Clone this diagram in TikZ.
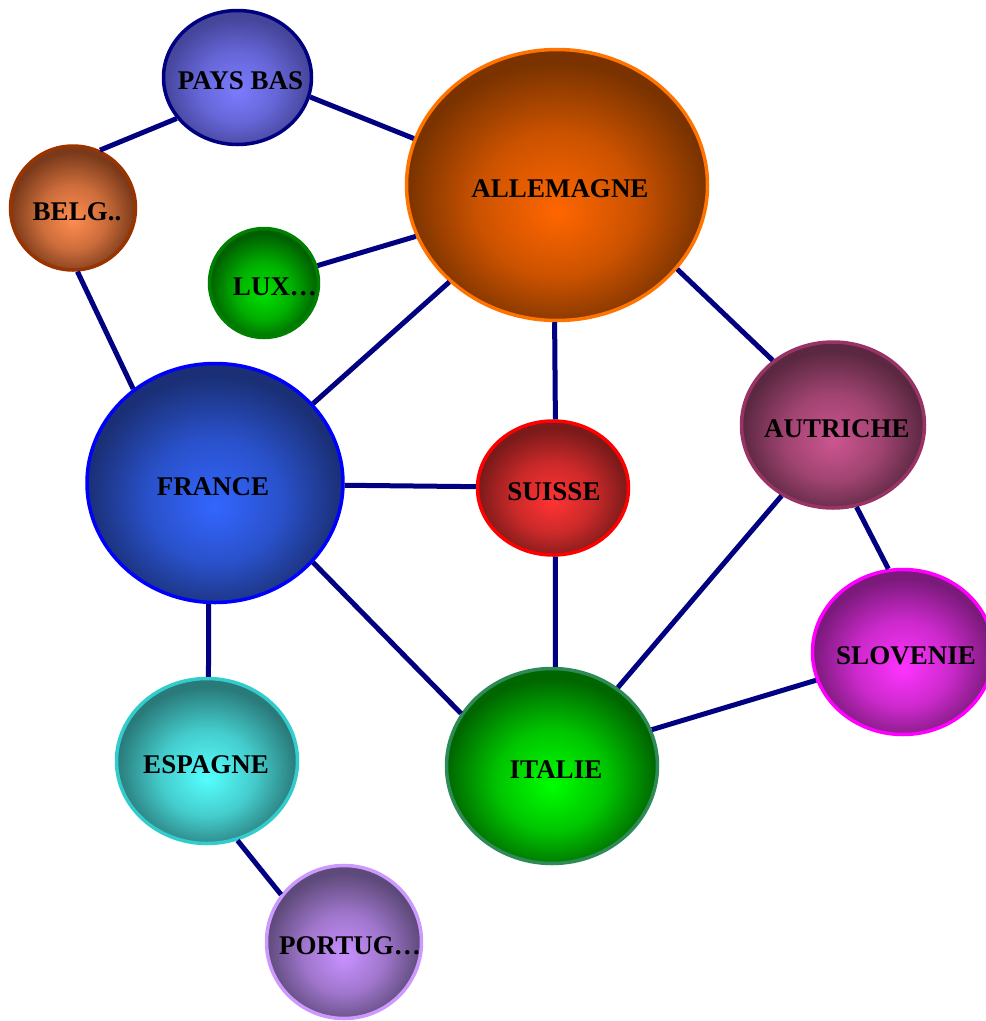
\documentclass[tikz,border=0pt]{standalone}
\usepackage{fontspec}
\setmainfont{Liberation Serif}
\usetikzlibrary{shapes.geometric}

% glowing fill: light a little below the middle, dark towards the rim
\colorlet{gin}{white}
\colorlet{gmid}{gray}
\colorlet{gout}{black}
\pgfdeclareradialshading[gin,gmid,gout]{glow}{\pgfpoint{0bp}{-5bp}}{%
  color(0bp)=(gin); color(13bp)=(gmid); color(25bp)=(gout); color(50bp)=(gout)}

\definecolor{linkblue}{HTML}{000080}

% label of zero width, so that the ellipse keeps its own size;
% #1 moves the text sideways by half its value
\newcommand\ctylabel[2][0pt]{\makebox[0pt]{\hspace*{#1}\smash{#2}\rule{0pt}{24pt}}}

\tikzset{
  country/.style n args={5}{
    ellipse, inner sep=0pt, line width=3.5pt,
    minimum width=#1, minimum height=#2,
    /utils/exec={\definecolor{gline}{HTML}{#3}\definecolor{gin}{HTML}{#4}%
      \definecolor{gout}{HTML}{#5}\colorlet{gmid}{gin!62!gout}},
    draw=gline, shade, shading=glow,
    font=\fontsize{27}{30}\selectfont\bfseries, text=black},
  link/.style={draw=linkblue, line width=5pt},
}

\begin{document}
\begin{tikzpicture}[x=1pt, y=-1pt]
\useasboundingbox (0,0) rectangle (986,1021);
\clip (0,0) rectangle (986,1021);

% countries
\node[country={148pt}{134pt}{000080}{7B7BFF}{45459A}] (pb) at (237.5,77.5) {\ctylabel[6pt]{PAYS BAS}};
\node[country={125pt}{124pt}{993300}{FF8C50}{7A3A1A}] (be) at (73,208) {\ctylabel[8pt]{BELG..}};
\node[country={109pt}{109pt}{008000}{00E000}{006000}] (lx) at (264,283) {\ctylabel[22pt]{LUX…}};
\node[country={301pt}{271pt}{FF7400}{FF6600}{7A3300}] (al) at (557,185) {\ctylabel[6pt]{ALLEMAGNE}};
\node[country={256pt}{239pt}{0000FF}{3366FF}{1A2F75}] (fr) at (215,483) {\ctylabel[-4pt]{FRANCE}};
\node[country={151pt}{134pt}{FF0000}{FF3333}{7A1A1A}] (su) at (553,488) {\ctylabel[2pt]{SUISSE}};
\node[country={183pt}{166pt}{993366}{CC5590}{5A2840}] (au) at (833,425) {\ctylabel[8pt]{AUTRICHE}};
\node[country={181pt}{165pt}{FF00FF}{FF33FF}{7A1A7A}] (sl) at (903,652) {\ctylabel[6pt]{SLOVENIE}};
\node[country={181pt}{165pt}{33CCCC}{55FFFF}{2A7A7A}] (es) at (207,761) {\ctylabel[-2pt]{ESPAGNE}};
\node[country={211pt}{195pt}{2E8B57}{00FF00}{006600}] (it) at (552,766) {\ctylabel[8pt]{ITALIE}};
\node[country={155pt}{153pt}{CC99FF}{C891FF}{5E4A7A}] (pt) at (344,942) {\ctylabel[12pt]{PORTUG…}};

% borders between neighbours
\draw[link] (pb.214) -- (be.65);
\draw[link] (pb.-15) -- (al.162);
\draw[link] (lx.18) -- (al.200);
\draw[link] (be.274) -- (fr.131);
\draw[link] (al.222) -- (fr.39);
\draw[link] (al.269) -- (su.88);
\draw[link] (al.-35) -- (au.133);
\draw[link] (fr.-1) -- (su.179);
\draw[link] (fr.-39) -- (it.150);
\draw[link] (fr.267) -- (es.89);
\draw[link] (su.-88) -- (it.88);
\draw[link] (au.234) -- (it.50);
\draw[link] (au.-74) -- (sl.100);
\draw[link] (sl.198) -- (it.20);
\draw[link] (es.-69) -- (pt.143);
\end{tikzpicture}
\end{document}
